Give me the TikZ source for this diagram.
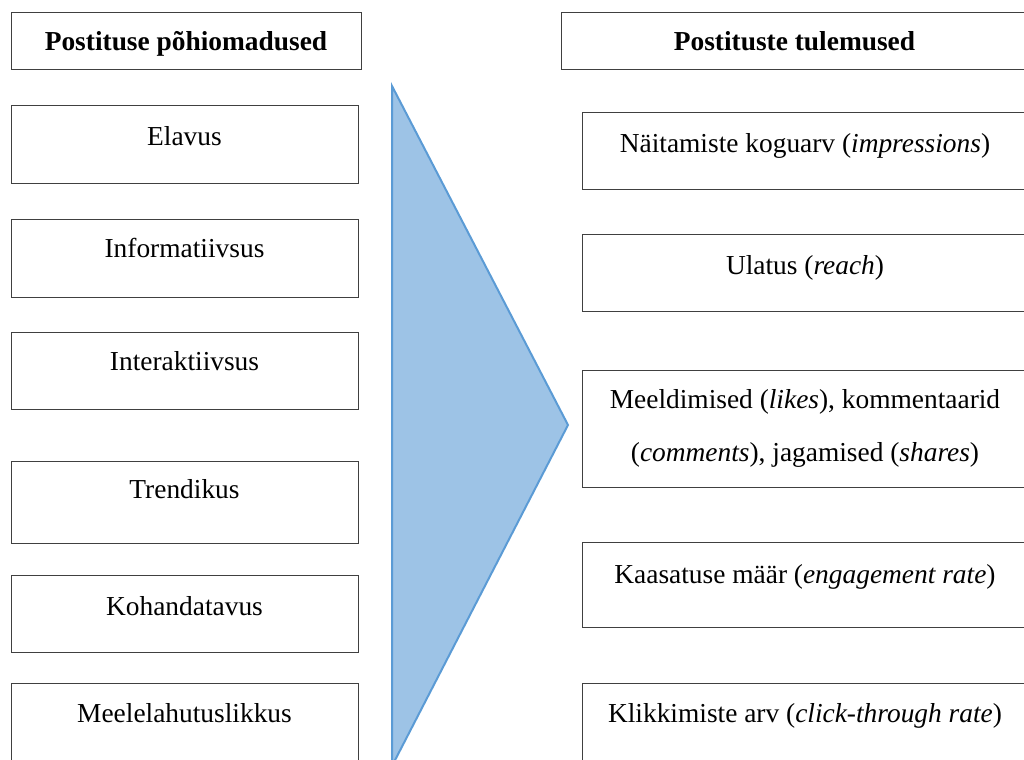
\documentclass[tikz,border=0pt]{standalone}
\usepackage{fontspec}
\setmainfont{Liberation Serif}
\begin{document}
\begin{tikzpicture}[x=0.5pt,y=-0.5pt,
  boxstyle/.style={draw=boxgray, line width=0.65pt, rectangle, inner sep=0pt, anchor=north west},
  txt/.style={anchor=base, inner sep=0pt, align=center, font=\fontsize{13.7}{26.5}\selectfont},
  hdr/.style={txt, font=\fontsize{13.7}{26.5}\selectfont\bfseries}]
\definecolor{boxgray}{HTML}{404040}
\definecolor{trifill}{HTML}{9DC3E6}
\definecolor{triline}{HTML}{5B9BD5}
\useasboundingbox (0,0) rectangle (1024,760);
\clip (0,0) rectangle (1024,760);
% left column
\node[boxstyle, minimum width=175pt, minimum height=28.5pt] (lh) at (11,12) {};
\node[hdr] (lht) at (186,50) {Postituse põhiomadused};
\node[boxstyle, minimum width=173.5pt, minimum height=39pt] (l1) at (11,105) {};
\node[txt] (l1t) at (184.5,145) {Elavus};
\node[boxstyle, minimum width=173.5pt, minimum height=39pt] (l2) at (11,219) {};
\node[txt] (l2t) at (184.5,257) {Informatiivsus};
\node[boxstyle, minimum width=173.5pt, minimum height=38.5pt] (l3) at (11,332) {};
\node[txt] (l3t) at (184.5,370) {Interaktiivsus};
\node[boxstyle, minimum width=173.5pt, minimum height=41pt] (l4) at (11,461) {};
\node[txt] (l4t) at (184.5,498) {Trendikus};
\node[boxstyle, minimum width=173.5pt, minimum height=38.5pt] (l5) at (11,575) {};
\node[txt] (l5t) at (184.5,615) {Kohandatavus};
\node[boxstyle, minimum width=173.5pt, minimum height=50pt] (l6) at (11,683) {};
\node[txt] (l6t) at (184.5,722) {Meelelahutuslikkus};
% triangle
\draw[fill=trifill, draw=triline, line width=1pt, line join=miter]
  (392,86) coordinate (ta) -- (568,425) coordinate (tb) -- (392,766) coordinate (tc) -- cycle;
% right column
\node[boxstyle, minimum width=233.5pt, minimum height=28.5pt] (rh) at (561,12) {};
\node[hdr] (rht) at (794.5,50) {Postituste tulemused};
\node[boxstyle, minimum width=223pt, minimum height=38.5pt] (r1) at (582,112) {};
\node[txt] (r1t) at (805,152) {Näitamiste koguarv (\textit{impressions})};
\node[boxstyle, minimum width=223pt, minimum height=38.5pt] (r2) at (582,234) {};
\node[txt] (r2t) at (805,274) {Ulatus (\textit{reach})};
\node[boxstyle, minimum width=223pt, minimum height=58.5pt] (r3) at (582,370) {};
\node[txt] (r3t) at (805,461) {Meeldimised (\textit{likes}), kommentaarid\\(\textit{comments}), jagamised (\textit{shares})};
\node[boxstyle, minimum width=223pt, minimum height=42.5pt] (r4) at (582,542) {};
\node[txt] (r4t) at (805,583) {Kaasatuse määr (\textit{engagement rate})};
\node[boxstyle, minimum width=223pt, minimum height=50pt] (r5) at (582,683) {};
\node[txt] (r5t) at (805,722) {Klikkimiste arv (\textit{click-through rate})};
\end{tikzpicture}
\end{document}
